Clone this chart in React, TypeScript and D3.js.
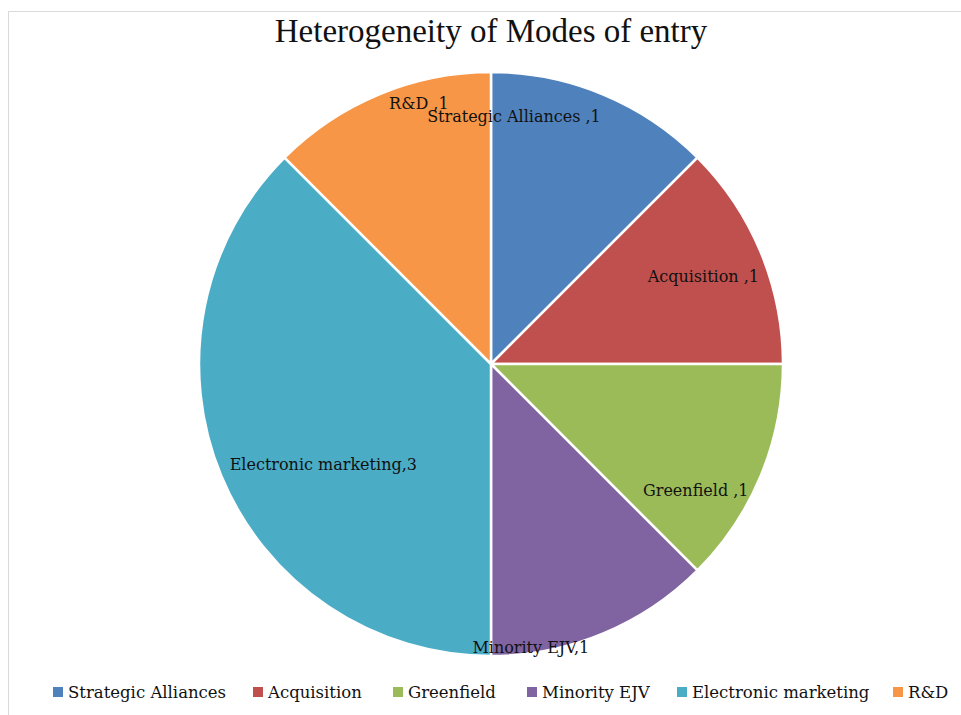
import React from "react";
import * as d3 from "d3";

const categories = ["Strategic Alliances", "Acquisition", "Greenfield", "Minority EJV", "Electronic marketing", "R&D"];
const values = [1, 1, 1, 1, 3, 1];
const sliceLabels = ["Strategic Alliances ,1", "Acquisition ,1", "Greenfield ,1", "Minority EJV,1", "Electronic marketing,3", "R&D ,1"];
const colors = ["#4F81BD", "#C0504D", "#9BBB59", "#8064A2", "#4BACC6", "#F79646"];
const title = "Heterogeneity of Modes of entry";

// label placement (polar: degrees clockwise from top, fraction of radius)
const labelAngles = [5.3, 67.5, 121.8, 172, 239, 344.5];
const labelRadii = [0.85, 0.787, 0.825, 0.98, 0.67, 0.925];

const W = 961, H = 715;
const cx = 491, cy = 364, R = 292;
const TITLE_FONT = "'Liberation Serif', serif";
const FONT = "'DejaVu Serif', serif";

export default function App() {
  const pie = d3.pie<number>().sort(null).value((d) => d);
  const arcs = pie(values);
  const arc = d3.arc<d3.PieArcDatum<number>>().innerRadius(0).outerRadius(R);

  const legendX = [53, 253, 393, 527, 677, 893];

  return (
    <svg width={W} height={H} style={{ position: "absolute", left: 0, top: 0, background: "#fff" }}>
      <rect x={8.5} y={11.5} width={W + 10} height={H} fill="#fff" stroke="#d9d9d9" strokeWidth={1} />
      <text x={491} y={42} textAnchor="middle" fontFamily={TITLE_FONT} fontSize={33} fill="#111">{title}</text>
      <g transform={`translate(${cx},${cy})`}>
        {arcs.map((a, i) => (
          <path key={i} d={arc(a) || ""} fill={colors[i]} stroke="#fff" strokeWidth={2.5} />
        ))}
        {arcs.map((a, i) => {
          const [x, y] = d3.pointRadial((labelAngles[i] * Math.PI) / 180, labelRadii[i] * R);
          return (
            <text key={i} x={x} y={y} textAnchor="middle" dominantBaseline="central" fontFamily={FONT} fontSize={16} fill="#111">
              {sliceLabels[i]}
            </text>
          );
        })}
      </g>
      <g>
        {categories.map((c, i) => (
          <g key={c} transform={`translate(${legendX[i]},692)`}>
            <rect x={0} y={-5} width={10} height={10} fill={colors[i]} />
            <text x={15} y={0} dominantBaseline="central" fontFamily={FONT} fontSize={16.5} fill="#111">{c}</text>
          </g>
        ))}
      </g>
    </svg>
  );
}
